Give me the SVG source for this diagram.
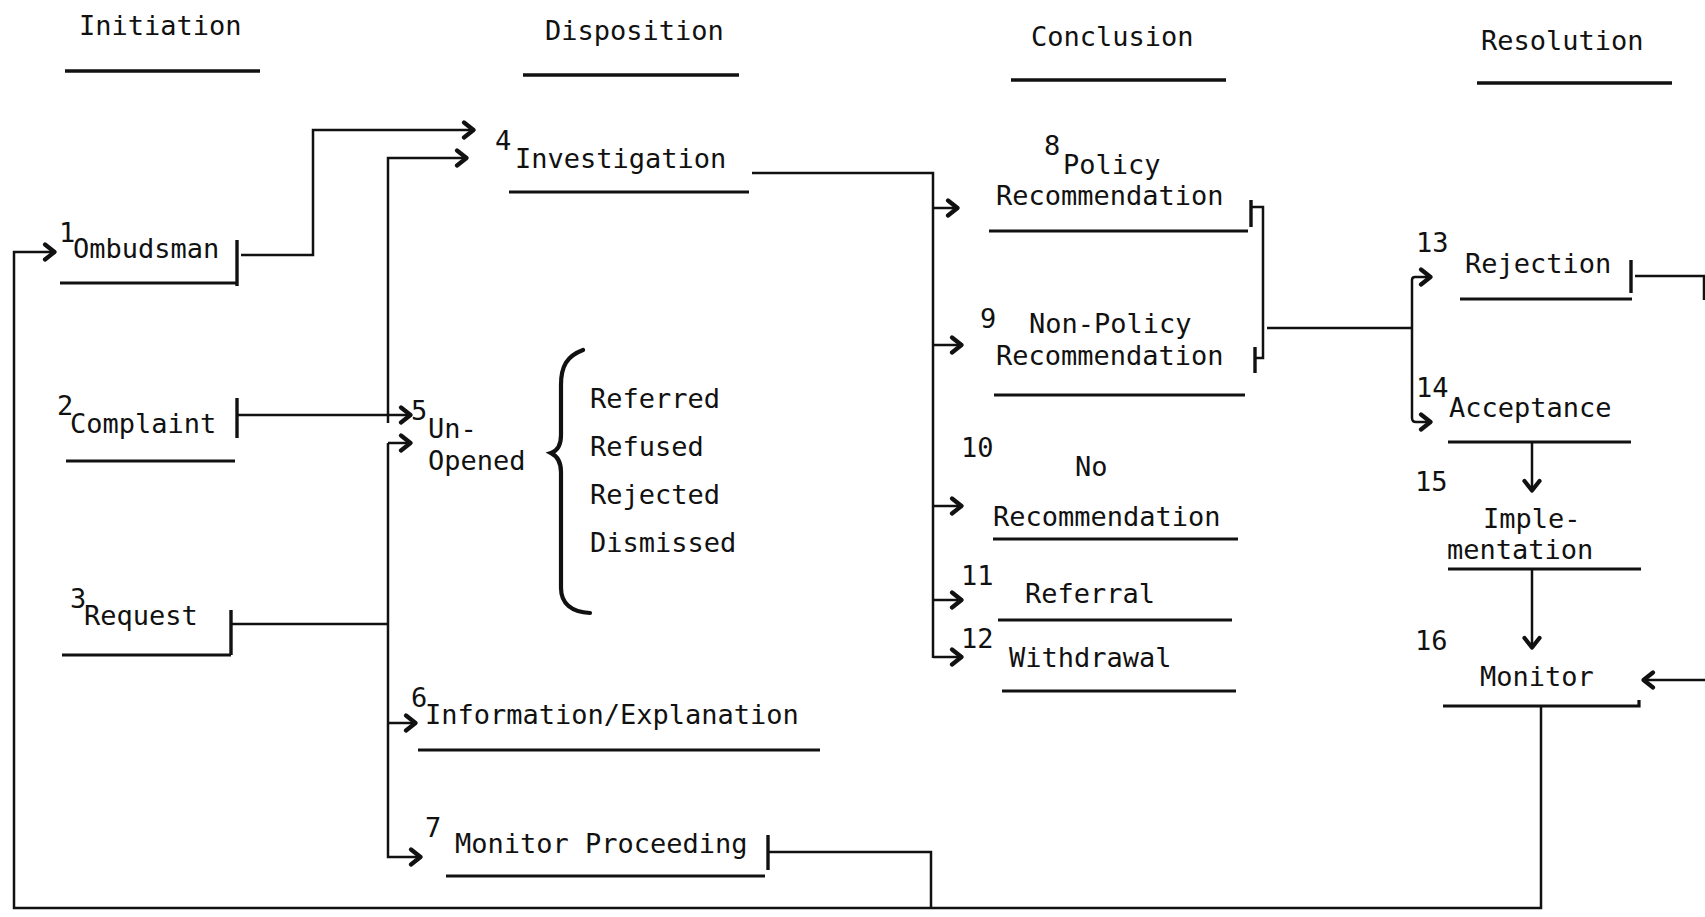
<svg xmlns="http://www.w3.org/2000/svg" width="1705" height="917" viewBox="0 0 1705 917">
<defs>
<marker id="arr" markerUnits="userSpaceOnUse" viewBox="0 0 15 20" refX="13" refY="10" markerWidth="15" markerHeight="20" orient="auto">
<path d="M3,2.5 L12.5,10 L3,17.5" fill="none" stroke="#111" stroke-width="4.2" stroke-linecap="round" stroke-linejoin="round"/>
</marker>
<style>
text{font-family:"DejaVu Sans Mono","Liberation Mono",monospace;font-size:27px;fill:#111}
.ul{stroke:#111;stroke-width:3.2;fill:none}
.hd{stroke:#111;stroke-width:3.6;fill:none}
.tk{stroke:#111;stroke-width:3.4;fill:none}
.cn{stroke:#111;stroke-width:2.5;fill:none}
.ar{marker-end:url(#arr)}
</style>
</defs>
<rect width="1705" height="917" fill="#fff"/>

<g id="headings">
<text x="79" y="35">Initiation</text>
<path class="hd" d="M65,71 H260"/>
<text x="545" y="40">Disposition</text>
<path class="hd" d="M523,75 H739"/>
<text x="1031" y="46">Conclusion</text>
<path class="hd" d="M1011,80 H1226"/>
<text x="1481" y="50">Resolution</text>
<path class="hd" d="M1477,83 H1672"/>
</g>

<g id="n1">
<text x="59" y="242">1</text><text x="73" y="258">Ombudsman</text>
<path class="ul" d="M60,283 H237"/><path class="tk" d="M237,240 V286"/>
</g>
<g id="n2">
<text x="57" y="415">2</text><text x="70" y="433">Complaint</text>
<path class="ul" d="M66,461 H235"/><path class="tk" d="M237,398 V438"/>
</g>
<g id="n3">
<text x="70" y="608">3</text><text x="84" y="625">Request</text>
<path class="ul" d="M62,655 H231"/><path class="tk" d="M231,610 V655"/>
</g>
<g id="n4">
<text x="495" y="150">4</text><text x="515" y="168">Investigation</text>
<path class="ul" d="M509,192 H749"/>
</g>
<g id="n5">
<text x="411" y="420">5</text><text x="428" y="438">Un-</text><text x="428" y="470">Opened</text>
<path d="M583,350 C567,356 561,366 561,385 L561,435 C561,446 557,451 551,453 C557,456 561,461 561,472 L561,588 C561,604 572,612 590,613" fill="none" stroke="#111" stroke-width="4.2" stroke-linecap="round"/>
<text x="590" y="408">Referred</text>
<text x="590" y="456">Refused</text>
<text x="590" y="504">Rejected</text>
<text x="590" y="552">Dismissed</text>
</g>
<g id="n6">
<text x="411" y="707">6</text><text x="425" y="724">Information/Explanation</text>
<path class="ul" d="M418,750 H820"/>
</g>
<g id="n7">
<text x="425" y="837">7</text><text x="455" y="853">Monitor Proceeding</text>
<path class="ul" d="M446,876 H765"/><path class="tk" d="M768,835 V870"/>
</g>
<g id="n8">
<text x="1044" y="155">8</text><text x="1063" y="174">Policy</text><text x="996" y="205">Recommendation</text>
<path class="ul" d="M989,231 H1248"/><path class="tk" d="M1251,200 V227"/>
</g>
<g id="n9">
<text x="980" y="328">9</text><text x="1029" y="333">Non-Policy</text><text x="996" y="365">Recommendation</text>
<path class="ul" d="M994,395 H1245"/><path class="tk" d="M1255,347 V373"/>
</g>
<g id="n10">
<text x="961" y="457">10</text><text x="1075" y="476">No</text><text x="993" y="526">Recommendation</text>
<path class="ul" d="M993,539 H1238"/>
</g>
<g id="n11">
<text x="961" y="585">11</text><text x="1025" y="603">Referral</text>
<path class="ul" d="M998,620 H1232"/>
</g>
<g id="n12">
<text x="961" y="648">12</text><text x="1009" y="667">Withdrawal</text>
<path class="ul" d="M1002,691 H1236"/>
</g>
<g id="n13">
<text x="1416" y="252">13</text><text x="1465" y="273">Rejection</text>
<path class="ul" d="M1460,299 H1632"/><path class="tk" d="M1631,260 V293"/>
</g>
<g id="n14">
<text x="1416" y="397">14</text><text x="1449" y="417">Acceptance</text>
<path class="ul" d="M1448,442 H1631"/>
</g>
<g id="n15">
<text x="1415" y="491">15</text><text x="1483" y="528">Imple-</text><text x="1447" y="559">mentation</text>
<path class="ul" d="M1448,569 H1641"/>
</g>
<g id="n16">
<text x="1415" y="650">16</text><text x="1480" y="686">Monitor</text>
<path class="ul" d="M1443,706 H1639 V700"/>
</g>

<g id="connectors">
<path class="cn ar" d="M241,255 H313 V130 H474"/>
<path class="cn ar" d="M388,423 V158 H467"/>
<path class="cn ar" d="M237,415 H411"/>
<path class="cn" d="M231,624 H388"/>
<path class="cn ar" d="M388,443 H411"/>
<path class="cn ar" d="M388,443 V857 H421"/>
<path class="cn ar" d="M388,723 H416"/>
<path class="cn" d="M752,173 H933 V658"/>
<path class="cn ar" d="M933,208 H958"/>
<path class="cn ar" d="M933,345 H962"/>
<path class="cn ar" d="M933,506 H962"/>
<path class="cn ar" d="M933,600 H962"/>
<path class="cn ar" d="M933,657 H962"/>
<path class="cn" d="M1251,207 H1263 V358 H1255"/>
<path class="cn" d="M1267,328 H1412"/>
<path class="cn ar" d="M1412,328 V280 Q1412,277 1415,277 H1431"/>
<path class="cn ar" d="M1412,328 V418 Q1412,422 1416,422 H1431"/>
<path class="cn ar" d="M1532,442 V491"/>
<path class="cn ar" d="M1532,569 V648"/>
<path class="cn" d="M1635,276 H1704 V300"/>
<path class="cn ar" d="M1705,680 H1643"/>
<path class="cn" d="M768,852 H931 V908"/>
<path class="cn ar" d="M1541,706 V908 H14 V252 H55"/>
</g>
</svg>
